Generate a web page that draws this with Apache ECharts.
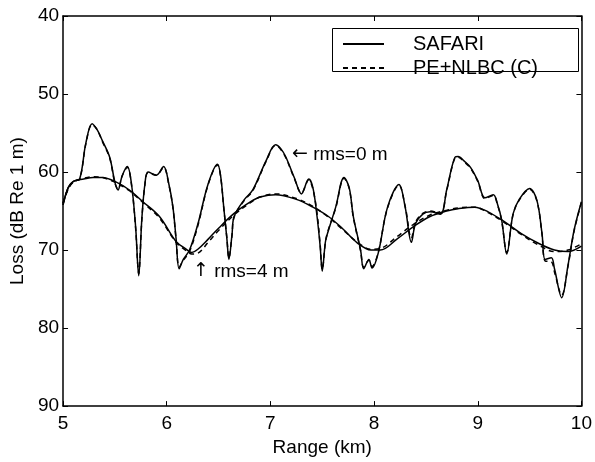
<!DOCTYPE html>
<html>
<head>
<meta charset="utf-8" />
<title>Loss vs Range</title>
<script src="https://cdn.jsdelivr.net/npm/echarts@6/dist/echarts.min.js"></script>
<style>
  html, body { margin: 0; padding: 0; background: #fff; }
  #main { width: 595px; height: 462px; }
</style>
</head>
<body>
<div id="main"></div>
<script>
// range (km) samples for the rms=0 m curves
var rangeRough = [5.00, 5.05, 5.10, 5.16, 5.22, 5.28, 5.33, 5.38, 5.45, 5.50, 5.53, 5.57, 5.62, 5.66, 5.70, 5.73,
  5.76, 5.79, 5.82, 5.90, 5.97, 6.02, 6.06, 6.09, 6.12, 6.16, 6.22, 6.30, 6.40, 6.49, 6.52, 6.55, 6.58, 6.60,
  6.63, 6.65, 6.75, 6.83, 6.96, 7.05, 7.10, 7.15, 7.23, 7.30, 7.37, 7.41, 7.45, 7.48, 7.50, 7.53, 7.55, 7.63,
  7.71, 7.76, 7.80, 7.87, 7.90, 7.95, 7.98, 8.04, 8.13, 8.24, 8.30, 8.36, 8.40, 8.47, 8.54, 8.64, 8.70, 8.78,
  8.81, 8.87, 8.93, 9.00, 9.07, 9.15, 9.19, 9.23, 9.28, 9.34, 9.40, 9.50, 9.57, 9.62, 9.65, 9.71, 9.74, 9.81,
  9.87, 9.93, 10.00];
var safariRough = [64.2, 62.0, 61.2, 60.9, 56.3, 53.8, 54.6, 56.0, 58.1, 61.3, 62.3, 60.5, 59.3, 61.5, 67.0, 73.3,
  66.0, 61.5, 60.0, 60.4, 59.3, 61.5, 64.5, 68.5, 72.4, 71.2, 70.0, 66.7, 61.5, 59.0, 60.5, 64.5, 68.5, 71.2,
  68.0, 65.7, 63.5, 62.3, 58.5, 56.5, 57.0, 58.1, 60.7, 62.8, 60.9, 62.0, 65.7, 69.5, 72.7, 69.0, 67.9, 64.5,
  60.7, 62.0, 65.7, 70.0, 72.4, 71.2, 72.3, 70.4, 64.5, 61.6, 64.5, 69.0, 66.6, 65.4, 65.1, 65.4, 62.3, 58.1,
  58.0, 58.6, 59.4, 61.1, 63.3, 62.9, 64.1, 66.1, 70.5, 65.4, 63.5, 62.1, 63.6, 67.9, 71.2, 71.0, 72.4, 76.1,
  72.0, 67.4, 63.8];
var peRough = [64.0, 62.1, 61.2, 60.9, 56.4, 53.9, 54.6, 56.1, 58.2, 61.4, 62.2, 60.5, 59.4, 61.6, 67.2, 73.0,
  66.1, 61.6, 60.1, 60.4, 59.4, 61.6, 64.6, 68.6, 72.2, 71.3, 70.2, 66.9, 61.6, 59.1, 60.6, 64.6, 68.4, 71.0,
  68.1, 65.8, 63.6, 62.4, 58.6, 56.6, 57.1, 58.2, 60.8, 62.7, 61.0, 62.2, 65.3, 69.3, 72.5, 69.1, 67.8, 64.6,
  60.8, 62.1, 65.8, 70.1, 72.2, 71.3, 72.1, 70.3, 64.6, 61.7, 64.4, 68.5, 66.4, 65.3, 65.0, 65.3, 62.4, 58.2,
  58.1, 58.7, 59.5, 61.2, 63.4, 63.0, 64.2, 66.2, 70.3, 65.5, 63.6, 62.2, 63.7, 68.0, 71.4, 71.5, 72.8, 75.8,
  72.1, 67.5, 63.9];

// range (km) samples for the rms=4 m curves
var rangeSmooth = [5.00, 5.05, 5.10, 5.20, 5.29, 5.38, 5.50, 5.64, 5.77, 5.93, 6.09, 6.19, 6.24, 6.30, 6.40, 6.50,
  6.65, 6.81, 6.90, 7.05, 7.25, 7.41, 7.56, 7.70, 7.84, 7.97, 8.06, 8.22, 8.38, 8.54, 8.70, 8.81, 8.97, 9.10,
  9.26, 9.42, 9.58, 9.74, 9.87, 10.00];
var safariSmooth = [64.2, 62.0, 61.2, 60.9, 60.7, 60.7, 61.2, 62.3, 63.8, 65.7, 68.9, 69.9, 70.3, 69.9, 68.6, 67.2,
  65.3, 63.8, 63.2, 62.9, 63.5, 64.5, 65.7, 67.3, 69.1, 70.0, 70.0, 68.6, 67.0, 65.7, 65.0, 64.7, 64.5, 65.1,
  66.4, 67.9, 69.1, 70.0, 70.2, 69.5];
var peSmooth = [64.0, 62.2, 61.3, 60.8, 60.6, 60.7, 61.3, 62.4, 63.9, 65.9, 69.0, 70.1, 70.5, 70.4, 69.0, 67.5,
  65.5, 63.9, 63.2, 62.8, 63.4, 64.4, 65.8, 67.4, 69.0, 69.9, 69.8, 68.3, 66.7, 65.5, 64.9, 64.6, 64.5, 65.2,
  66.5, 68.0, 69.3, 70.2, 70.0, 69.2];

var xTicks = [5, 6, 7, 8, 9, 10];
var yTicks = [40, 50, 60, 70, 80, 90];

function pairs(xs, ys) {
  return xs.map(function (x, i) { return [x, ys[i]]; });
}

var font = 'Liberation Sans';
var myChart = echarts.init(document.getElementById('main'));

function lineSeries(name, xs, ys, dashed) {
  return {
    name: name,
    type: 'line',
    data: pairs(xs, ys),
    symbol: 'none',
    smooth: 0.35,
    animation: false,
    lineStyle: { color: '#000', width: 1.5, type: dashed ? [5, 4] : 'solid' },
    itemStyle: { color: '#000' }
  };
}

var axisLine = { show: true, lineStyle: { color: '#000', width: 1.5 } };
var axisTick = { show: true, inside: true, length: 5, lineStyle: { color: '#000', width: 1 } };

var option = {
  backgroundColor: '#fff',
  animation: false,
  grid: { left: 61, right: 13, top: 16, bottom: 50 },
  xAxis: [{
    type: 'value', min: 5, max: 10, interval: 1, position: 'bottom',
    name: 'Range (km)', nameLocation: 'middle', nameGap: 31,
    nameTextStyle: { color: '#000', fontFamily: font, fontSize: 19 },
    axisLine: axisLine, axisTick: axisTick, splitLine: { show: false },
    axisLabel: {
      color: '#000', fontFamily: font, fontSize: 19, margin: 8,
      formatter: function (v) { return xTicks.indexOf(v) >= 0 ? String(v) : ''; }
    }
  }, {
    type: 'value', min: 5, max: 10, interval: 1, position: 'top',
    axisLine: axisLine, axisTick: axisTick, axisLabel: { show: false }, splitLine: { show: false }
  }],
  yAxis: [{
    type: 'value', min: 40, max: 90, interval: 10, inverse: true, position: 'left',
    name: 'Loss (dB Re 1 m)', nameLocation: 'middle', nameGap: 34, nameRotate: 90,
    nameTextStyle: { color: '#000', fontFamily: font, fontSize: 19 },
    axisLine: axisLine, axisTick: axisTick, splitLine: { show: false },
    axisLabel: {
      color: '#000', fontFamily: font, fontSize: 19, margin: 4,
      formatter: function (v) { return yTicks.indexOf(v) >= 0 ? String(v) : ''; }
    }
  }, {
    type: 'value', min: 40, max: 90, interval: 10, inverse: true, position: 'right',
    axisLine: axisLine, axisTick: axisTick, axisLabel: { show: false }, splitLine: { show: false }
  }],
  legend: {
    data: ['SAFARI', 'PE+NLBC (C)'],
    orient: 'vertical',
    left: 342, top: 34,
    itemWidth: 41, itemHeight: 14, itemGap: 4,
    padding: 0,
    itemStyle: { opacity: 0 },
    textStyle: { color: '#000', fontFamily: font, fontSize: 20, padding: [0, 0, 0, 24] }
  },
  graphic: [
    { type: 'rect', left: 332, top: 28, shape: { width: 246, height: 43 },
      style: { fill: '#fff', stroke: '#000', lineWidth: 1 }, z: 0, silent: true },
    { type: 'text', left: 292, top: 145, z: 10,
      style: {
        text: '{a|\u2190} rms=0 m', fill: '#000', font: '19px "Liberation Sans"',
        rich: { a: { fontFamily: 'DejaVu Sans', fontSize: 19, fill: '#000' } }
      } },
    { type: 'text', left: 193, top: 262, z: 10,
      style: {
        text: '{a|\u2191} rms=4 m', fill: '#000', font: '19px "Liberation Sans"',
        rich: { a: { fontFamily: 'DejaVu Sans', fontSize: 19, fill: '#000' } }
      } }
  ],
  series: [
    lineSeries('SAFARI', rangeRough, safariRough, false),
    lineSeries('PE+NLBC (C)', rangeRough, peRough, true),
    lineSeries('SAFARI', rangeSmooth, safariSmooth, false),
    lineSeries('PE+NLBC (C)', rangeSmooth, peSmooth, true)
  ]
};
myChart.setOption(option);
</script>
</body>
</html>
